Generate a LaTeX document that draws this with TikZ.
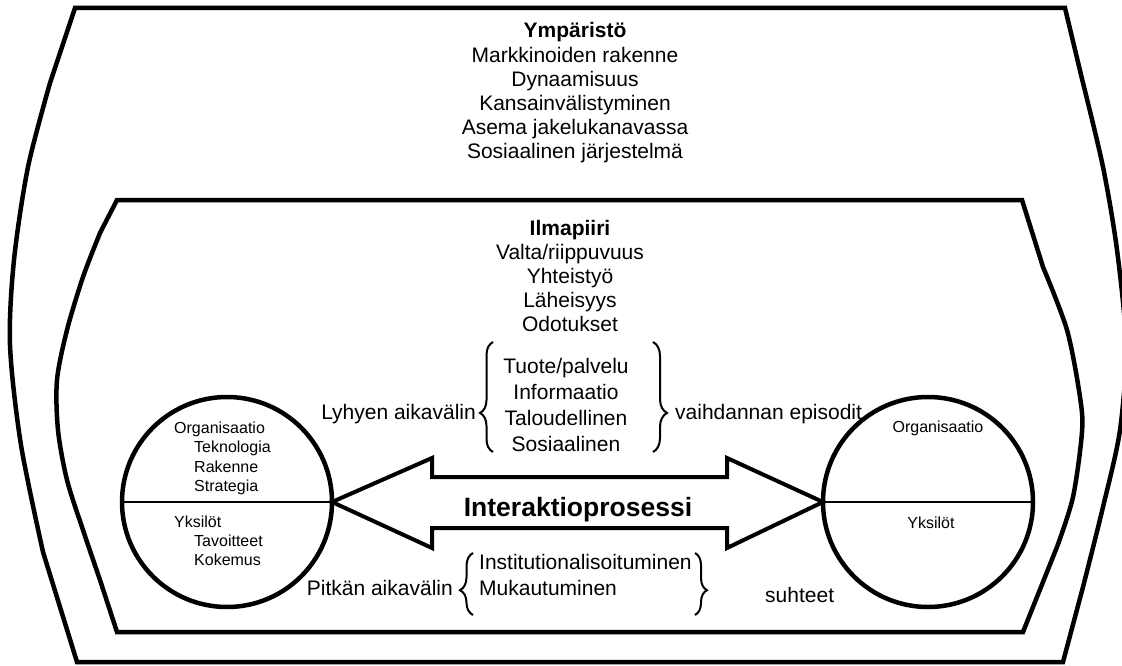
\documentclass[tikz,border=0pt]{standalone}
\usepackage{fontspec}
\setmainfont{Liberation Sans}
\usetikzlibrary{calc,decorations.pathreplacing}

\begin{document}
\begin{tikzpicture}[x=1pt,y=-1pt,
  frame/.style={line width=4.5pt, line join=miter},
  ball/.style={circle, draw, line width=4.5pt, minimum size=210pt, inner sep=0pt, outer sep=0pt},
  split/.style={line width=1.5pt},
  bigarrow/.style={line width=4pt, line join=miter},
  txt/.style={font=\fontsize{21}{24}\selectfont, inner sep=0pt},
  small/.style={font=\fontsize{16}{19}\selectfont, inner sep=0pt},
  curly/.style 2 args={decorate, line width=2pt,
    decoration={brace, amplitude=#1pt, aspect=#2}},
]
\fill[white] (0,0) rectangle (1122,666);
\useasboundingbox (0,0) rectangle (1122,666);

% outer boundary: environment
\draw[frame] (75,8) -- (1065,8)
  -- plot[smooth] coordinates {(1083,83) (1103,167) (1117,250) (1126,345)
                               (1120,430) (1103,507) (1083,587)}
  -- (1063,662) -- (77,662)
  -- plot[smooth] coordinates {(43,552) (21,445) (10,345) (14,260)
                               (28,167) (50,83)}
  -- cycle;

% inner boundary: atmosphere
\draw[frame] (117,200) -- (1022,200)
  -- plot[smooth] coordinates {(1043,267) (1067,330) (1080,397) (1082,432)
                               (1073,497) (1057,547)}
  -- (1023,632) -- (117,632)
  -- plot[smooth] coordinates {(100,580) (83,530) (67,480) (58,430)
                               (57,380) (67,330) (83,277) (100,233)}
  -- cycle;

% environment factors
\node[txt, anchor=base] (env) at (575,38) {\bfseries Ympäristö};
\foreach \t [count=\i] in {Markkinoiden rakenne, Dynaamisuus,
    Kansainvälistyminen, Asema jakelukanavassa, Sosiaalinen järjestelmä}
  \node[txt, anchor=base] (env\i) at (575,38+24.2*\i) {\t};

% atmosphere factors
\node[txt, anchor=base] (atm) at (570,235) {\bfseries Ilmapiiri};
\foreach \t [count=\i] in {Valta/riippuvuus, Yhteistyö, Läheisyys, Odotukset}
  \node[txt, anchor=base] (atm\i) at (570,235+24*\i) {\t};

% exchange episodes
\foreach \t [count=\i from 0] in {Tuote/palvelu, Informaatio, Taloudellinen, Sosiaalinen}
  \node[txt, anchor=base] (ex\i) at (566,373+26*\i) {\t};
\coordinate (sb1) at (493,452); \coordinate (sb2) at (493,342);
\coordinate (sb3) at (653,342); \coordinate (sb4) at (653,452);
\draw[curly={13}{0.355}] (sb1) -- (sb2);
\draw[curly={14}{0.645}] (sb3) -- (sb4);
\node[txt, anchor=base east] (short) at (476,419) {Lyhyen aikavälin};
\node[txt, anchor=base west] (episodes) at (675,419) {vaihdannan episodit};

% parties
\node[ball] (L) at (227,502) {};
\node[ball] (R) at (928,502) {};
\draw[split] (L.west) -- (L.east);
\draw[split] (R.west) -- (R.east);

\node[small, anchor=base west] (l1) at (174,433) {Organisaatio};
\node[small, anchor=base west] (l2) at (194,452) {Teknologia};
\node[small, anchor=base west] (l3) at (194,472) {Rakenne};
\node[small, anchor=base west] (l4) at (194,491) {Strategia};
\node[small, anchor=base west] (l5) at (174,527) {Yksilöt};
\node[small, anchor=base west] (l6) at (194,546) {Tavoitteet};
\node[small, anchor=base west] (l7) at (194,565) {Kokemus};
\node[small, anchor=base] (r1) at (938,432) {Organisaatio};
\node[small, anchor=base] (r2) at (931,528) {Yksilöt};

% interaction process arrow
\draw[bigarrow] (L.east) -- ($(L.east)+(100,-44)$) -- ($(L.east)+(100,-25)$)
  -- ($(R.west)+(-96,-25)$) -- ($(R.west)+(-96,-44)$) -- (R.west)
  -- ($(R.west)+(-96,46)$) -- ($(R.west)+(-96,26)$)
  -- ($(L.east)+(100,26)$) -- ($(L.east)+(100,46)$) -- cycle;
\node[font=\bfseries\fontsize{26.5}{30}\selectfont, inner sep=0pt, anchor=base]
  (ip) at (578,516) {Interaktioprosessi};

% relationships
\node[txt, anchor=base west] (inst) at (479,569) {Institutionalisoituminen};
\node[txt, anchor=base west] (adapt) at (479,595) {Mukautuminen};
\coordinate (lb1) at (473,615); \coordinate (lb2) at (473,553);
\coordinate (lb3) at (695,553); \coordinate (lb4) at (695,615);
\draw[curly={13}{0.40}] (lb1) -- (lb2);
\draw[curly={12}{0.60}] (lb3) -- (lb4);
\node[txt, anchor=base east] (long) at (453,595) {Pitkän aikavälin};
\node[txt, anchor=base west] (rel) at (765,602) {suhteet};
\end{tikzpicture}
\end{document}
